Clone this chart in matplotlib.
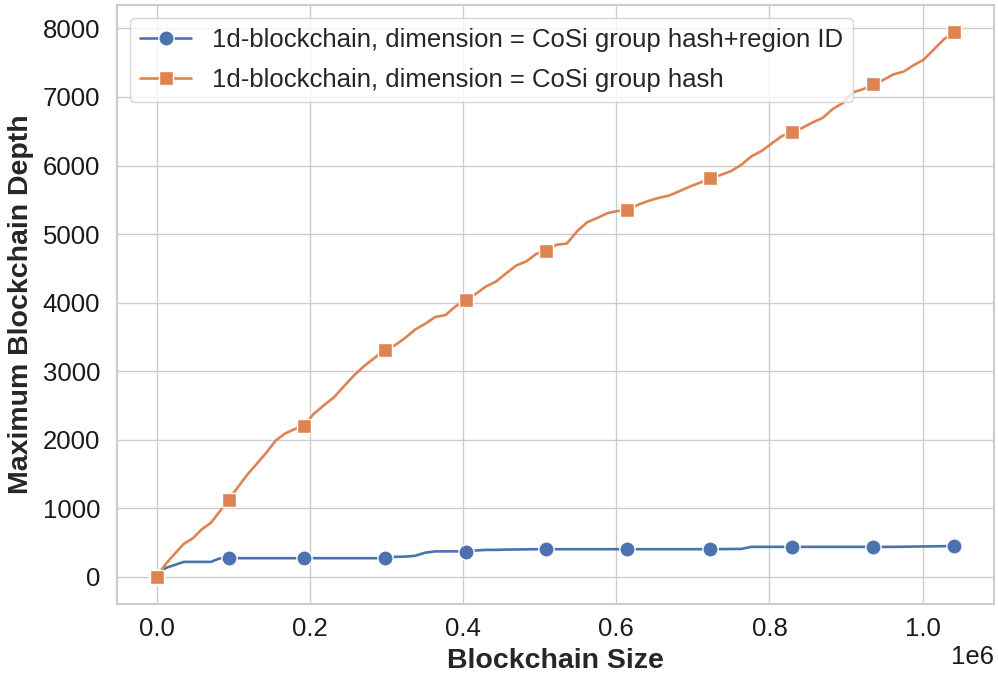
import matplotlib
matplotlib.use("Agg")
import matplotlib.pyplot as plt
import seaborn as sns

sns.set_theme(style="whitegrid")
plt.rcParams['font.family'] = ['Liberation Sans', 'DejaVu Sans']

# Blockchain size at each sampled step
blockchain_size = [
    0, 11700, 23500, 35200, 47000, 58700, 70500, 82200,
    93900, 106200, 118500, 130600, 142900, 155100, 167400, 179500,
    191800, 205000, 218300, 231400, 244600, 257800, 271100, 284300,
    297500, 310600, 323900, 337100, 350300, 363500, 376800, 390000,
    403100, 416300, 429600, 442800, 456000, 469100, 482500, 495600,
    508800, 522000, 535300, 548500, 561600, 574800, 588100, 601300,
    614500, 628000, 641600, 655100, 668600, 682200, 695800, 709200,
    722800, 736200, 749500, 762900, 776300, 789700, 803000, 816400,
    829700, 842900, 856200, 869400, 882600, 895800, 909100, 922200,
    935400, 948600, 961900, 975100, 988300, 1001400, 1014700, 1027900,
    1041100,
]

# Maximum depth, dimension = CoSi group hash + region ID
depth_hash_region = [
    0, 131, 175, 219, 219, 219, 219, 270,
    273, 273, 273, 273, 273, 273, 273, 273,
    273, 273, 273, 273, 273, 273, 273, 273,
    273, 292, 296, 307, 353, 372, 372, 372,
    369, 385, 394, 394, 398, 400, 402, 404,
    404, 404, 404, 404, 404, 404, 404, 404,
    404, 404, 404, 404, 404, 404, 404, 404,
    404, 405, 407, 408, 438, 438, 438, 438,
    438, 438, 438, 438, 438, 438, 438, 438,
    438, 438, 438, 440, 442, 444, 446, 448,
    453,
]

# Maximum depth, dimension = CoSi group hash
depth_hash = [
    0, 190, 339, 482, 563, 693, 788, 955,
    1124, 1314, 1496, 1650, 1810, 1988, 2091, 2153,
    2204, 2380, 2504, 2620, 2784, 2942, 3080, 3193,
    3314, 3377, 3482, 3606, 3691, 3791, 3818, 3945,
    4036, 4127, 4234, 4307, 4426, 4540, 4602, 4712,
    4759, 4845, 4861, 5037, 5171, 5234, 5304, 5336,
    5350, 5426, 5483, 5527, 5561, 5624, 5692, 5749,
    5815, 5861, 5918, 6007, 6133, 6212, 6323, 6431,
    6482, 6549, 6628, 6694, 6824, 6913, 7067, 7113,
    7183, 7248, 7329, 7369, 7463, 7545, 7694, 7843,
    7942,
]

series_labels = [
    "1d-blockchain, dimension = CoSi group hash+region ID",
    "1d-blockchain, dimension = CoSi group hash",
]

palette = sns.color_palette("deep")

fig = plt.figure(figsize=(9.98, 6.75), dpi=100)
ax = fig.add_axes([0.1172, 0.105, 0.8788, 0.8874])

ax.plot(blockchain_size, depth_hash_region, color=palette[0], lw=1.9,
        marker="o", markersize=11, markeredgecolor="white", markeredgewidth=1,
        markevery=8, label=series_labels[0])
ax.plot(blockchain_size, depth_hash, color=palette[1], lw=1.9,
        marker="s", markersize=10, markeredgecolor="white", markeredgewidth=1,
        markevery=8, label=series_labels[1])

ax.set_xlabel("Blockchain Size", fontsize=20.5, fontweight="bold", labelpad=5)
ax.set_ylabel("Maximum Blockchain Depth", fontsize=20.5, fontweight="bold", labelpad=6)
ax.tick_params(axis="both", labelsize=18.5, labelcolor="#1a1a1a")
ax.tick_params(axis="y", pad=6)
ax.xaxis.get_offset_text().set_fontsize(18.5)

for spine in ax.spines.values():
    spine.set_color("#cccccc")
    spine.set_linewidth(1.5)

leg = ax.legend(loc="upper left", fontsize=18.5, frameon=True,
                borderaxespad=0.5, handlelength=2.0, labelspacing=0.6)
leg.get_frame().set_edgecolor("#cccccc")

fig.savefig("out.png", dpi=100)
